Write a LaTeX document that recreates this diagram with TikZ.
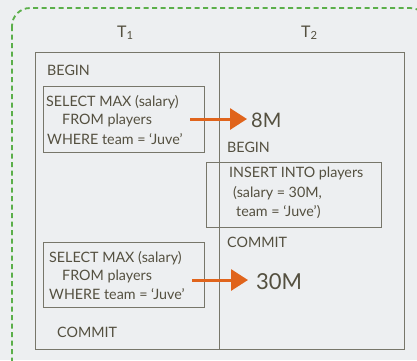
\documentclass[tikz,border=0pt]{standalone}
\usepackage{fontspec}
\setmainfont{Lato}
\usetikzlibrary{arrows.meta}
\definecolor{ink}{HTML}{545040}
\definecolor{frame}{HTML}{77766A}
\definecolor{dashgreen}{HTML}{5BAF4A}
\definecolor{org}{HTML}{E0641C}
\definecolor{bg}{HTML}{EDEFF1}
\tikzset{
  txt/.style={anchor=base west, inner sep=0pt, text=ink, font=\fontsize{14.3}{16}\selectfont},
  big/.style={anchor=base west, inner sep=0pt, text=ink, font=\fontsize{20}{22}\selectfont},
  bigger/.style={anchor=base west, inner sep=0pt, text=ink, font=\fontsize{22}{24}\selectfont},
  head/.style={anchor=base west, inner sep=0pt, text=ink, font=\fontsize{16}{18}\selectfont},
  qbox/.style={draw=frame, line width=0.9pt},
  grid/.style={draw=frame, line width=1pt},
  res/.style={draw=org, line width=3pt, -{Triangle[length=17pt,width=21pt]}, shorten >=0pt},
}
\begin{document}
\begin{tikzpicture}[x=1pt,y=-1pt]
\useasboundingbox (0,0) rectangle (417,360);
\fill[bg] (0,0) rectangle (417,360);
\draw[dashgreen, line width=1.8pt, dash pattern=on 5pt off 3.5pt, rounded corners=18pt] (12,8) rectangle (428,378);

% table
\draw[grid] (35,52) rectangle (404,349);
\draw[grid] (219,52) -- (219,349);

\node[head] (t1) at (117,37) {T\textsubscript{1}};
\node[head] (t2) at (301,37) {T\textsubscript{2}};

% T1 first query
\node[txt] (b1) at (47,75) {BEGIN};
\draw[qbox] (43,86) rectangle (204,152);
\node[txt] (q1a) at (46,106) {SELECT MAX (salary)};
\node[txt] (q1b) at (62,124) {FROM players};
\node[txt] (q1c) at (47,144) {WHERE team = ‘Juve’};

% T2
\node[txt] (b2) at (227,152) {BEGIN};
\draw[qbox] (206,162) rectangle (381,227);
\node[txt] (ia) at (229,177) {INSERT INTO players};
\node[txt] (ib) at (233,197) {(salary = 30M,};
\node[txt] (ic) at (236,216) {team = ‘Juve’)};
\node[txt] (c2) at (227,247) {COMMIT};

% T1 second query
\draw[qbox] (43,242) rectangle (204,307);
\node[txt] (q2a) at (49,262) {SELECT MAX (salary)};
\node[txt] (q2b) at (62,280) {FROM players};
\node[txt] (q2c) at (49,299) {WHERE team = ‘Juve’};
\node[txt] (c1) at (57,337) {COMMIT};

% results
\node[big] (r1) at (251,127) {8M};
\node[bigger] (r2) at (256,289) {30M};
\coordinate (a1s) at (190,119);
\coordinate (a1e) at (247,119);
\coordinate (a2s) at (192,280);
\coordinate (a2e) at (248,280);
\draw[res] (a1s) -- (a1e);
\draw[res] (a2s) -- (a2e);
\end{tikzpicture}
\end{document}
